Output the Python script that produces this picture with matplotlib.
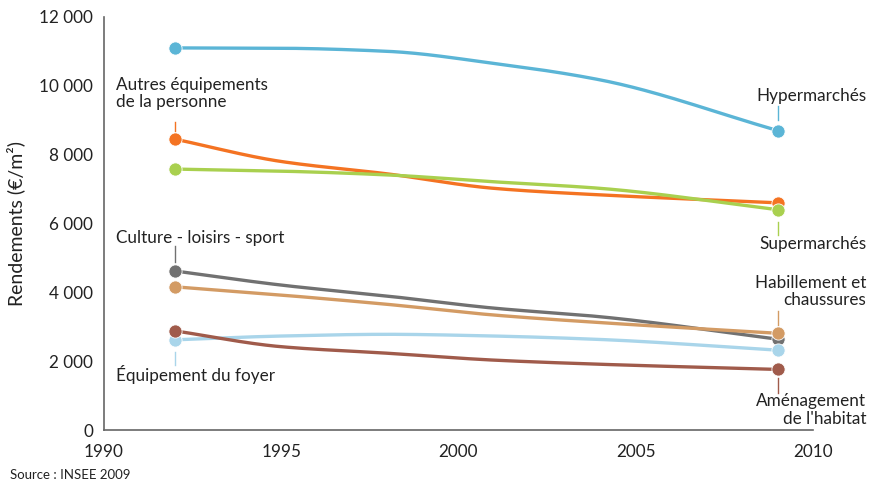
import numpy as np
import matplotlib.pyplot as plt

# years sampled along each curve (end points are the measured years)
years = [1992, 1995, 1998, 2001, 2004, 2009]

hyper = [11100, 11090, 11000, 10650, 10170, 8700]
autres = [8450, 7800, 7440, 7020, 6830, 6600]
super_ = [7580, 7520, 7410, 7210, 7020, 6400]
culture = [4620, 4210, 3890, 3540, 3290, 2640]
habill = [4160, 3920, 3650, 3340, 3120, 2810]
foyer = [2620, 2730, 2780, 2730, 2630, 2320]
amenag = [2880, 2420, 2230, 2030, 1910, 1760]

series = [
    (hyper, "#5bb5d6"),
    (autres, "#f47322"),
    (super_, "#a9d04f"),
    (culture, "#717171"),
    (habill, "#d39b64"),
    (foyer, "#a9d5ea"),
    (amenag, "#a05b4b"),
]

xticks = [1990, 1995, 2000, 2005, 2010]
yticks = [0, 2000, 4000, 6000, 8000, 10000, 12000]
ytick_labels = ["0", "2 000", "4 000", "6 000", "8 000", "10 000", "12 000"]


def smooth(x, y, n=300):
    # monotone cubic (pchip) so the curves don't overshoot
    x = np.asarray(x, float)
    y = np.asarray(y, float)
    h = np.diff(x)
    d = np.diff(y) / h
    k = len(x)
    m = np.zeros(k)
    for i in range(1, k - 1):
        if d[i - 1] * d[i] > 0:
            w1 = 2 * h[i] + h[i - 1]
            w2 = h[i] + 2 * h[i - 1]
            m[i] = (w1 + w2) / (w1 / d[i - 1] + w2 / d[i])
    for i, j, s in ((0, 0, 1), (k - 1, k - 2, -1)):
        h0, h1 = h[j], h[j - s] if 0 <= j - s < k - 1 else h[j]
        d0, d1 = d[j], d[j - s] if 0 <= j - s < k - 1 else d[j]
        t = ((2 * h0 + h1) * d0 - h0 * d1) / (h0 + h1)
        if np.sign(t) != np.sign(d0):
            t = 0
        elif np.sign(d0) != np.sign(d1) and abs(t) > abs(3 * d0):
            t = 3 * d0
        m[i] = t
    xs = np.linspace(x[0], x[-1], n)
    idx = np.clip(np.searchsorted(x, xs) - 1, 0, k - 2)
    hi = h[idx]
    t = (xs - x[idx]) / hi
    h00 = 2 * t ** 3 - 3 * t ** 2 + 1
    h10 = t ** 3 - 2 * t ** 2 + t
    h01 = -2 * t ** 3 + 3 * t ** 2
    h11 = t ** 3 - t ** 2
    ys = h00 * y[idx] + h10 * hi * m[idx] + h01 * y[idx + 1] + h11 * hi * m[idx + 1]
    return xs, ys


plt.rcParams["font.family"] = ["Lato", "DejaVu Sans"]
fig = plt.figure(figsize=(8.71, 4.86), dpi=100)
ax = fig.add_axes([0.1194, 0.1152, 0.814, 0.85])

for vals, col in series:
    sx, sy = smooth(years, vals)
    ax.plot(sx, sy, color=col, lw=2.4, solid_capstyle="round", zorder=2)
    ax.plot([years[0], years[-1]], [vals[0], vals[-1]], "o", color=col,
            ms=9.5, mec="white", mew=0.6, zorder=3)

# labels with short leader lines
labels = [
    ("Autres équipements\nde la personne", 1990.34, 9776, "left", 1992, 8948, 8687, "#f47322"),
    ("Culture - loisirs - sport", 1990.34, 5578, "left", 1992, 5346, 4881, "#717171"),
    ("Équipement du foyer", 1990.34, 1627, "left", 1992, 2266, 1888, "#a9d5ea"),
    ("Hypermarchés", 2011.5, 9704, "right", 2009, 9413, 9006, "#5bb5d6"),
    ("Supermarchés", 2011.5, 5404, "right", 2009, 6043, 5665, "#a9d04f"),
    ("Habillement et\nchaussures", 2011.5, 4024, "right", 2009, 3457, 3050, "#d39b64"),
    ("Aménagement\nde l'habitat", 2011.5, 581, "right", 2009, 1511, 1075, "#a05b4b"),
]
for txt, tx, ty, ha, lx, y0, y1, col in labels:
    ax.text(tx, ty, txt, ha=ha, va="center", fontsize=12.3, color="#222222",
            linespacing=1.1, clip_on=False)
    ax.plot([lx, lx], [y0, y1], color=col, lw=1, clip_on=False)

ax.set_xlim(1990, 2010)
ax.set_ylim(0, 12000)
ax.set_xticks(xticks)
ax.set_yticks(yticks)
ax.set_yticklabels(ytick_labels)
ax.tick_params(length=0, labelsize=12.3, colors="#222222", pad=8)
ax.tick_params(axis="x", pad=10)
for s in ["top", "right"]:
    ax.spines[s].set_visible(False)
for s in ["left", "bottom"]:
    ax.spines[s].set_color("#666666")
    ax.spines[s].set_linewidth(1.2)
ax.set_ylabel("Rendements (€/m²)", fontsize=14, color="#222222", labelpad=10)

fig.text(0.011, 0.014, "Source : INSEE 2009", fontsize=9.5, color="#222222")

fig.savefig("out.png", dpi=100)
